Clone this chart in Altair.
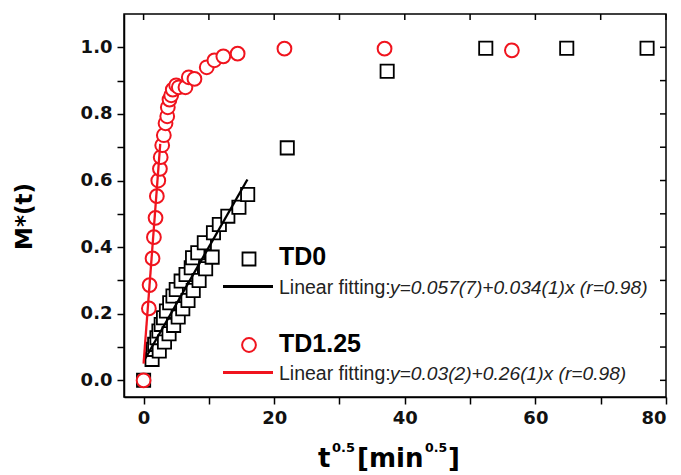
import altair as alt
import pandas as pd

# ---- data ----
td0_x = [0, 1.3, 1.42, 1.7, 2.05, 2.35, 2.4, 2.7, 3.05, 3.2, 3.5, 3.9, 4.0, 4.5, 4.6, 5.0,
         5.3, 5.75, 6.0, 6.5, 6.8, 7.3, 7.5, 7.6, 8.3, 8.5, 9.3, 9.5, 10.5, 10.7, 11.6,
         12.9, 14.6, 15.94, 22.0, 37.3, 52.4, 64.8, 77.1]
td0_y = [0, 0.063, 0.093, 0.108, 0.128, 0.148, 0.088, 0.168, 0.188, 0.115, 0.208, 0.14,
         0.233, 0.253, 0.165, 0.273, 0.19, 0.298, 0.215, 0.318, 0.24, 0.338, 0.368, 0.27,
         0.383, 0.3, 0.413, 0.335, 0.37, 0.443, 0.468, 0.493, 0.52, 0.558, 0.698, 0.928,
         0.997, 0.997, 0.997]

td125_x = [0, 0.81, 0.92, 1.37, 1.58, 1.83, 2.03, 2.25, 2.5, 2.62, 2.85, 3.1, 3.36, 3.62,
           3.71, 3.97, 4.23, 4.47, 4.99, 5.39, 6.41, 6.92, 7.79, 9.67, 10.84, 12.21, 14.4,
           21.57, 36.9, 56.4]
td125_y = [0, 0.216, 0.286, 0.366, 0.43, 0.488, 0.553, 0.6, 0.635, 0.67, 0.706, 0.736,
           0.772, 0.793, 0.82, 0.843, 0.856, 0.873, 0.886, 0.88, 0.88, 0.91, 0.905, 0.94,
           0.961, 0.973, 0.981, 0.996, 0.996, 0.991]

fit_td0_x = [0.15, 15.9]
fit_td0_y = [0.062, 0.603]
fit_td125_x = [0.0, 2.55]
fit_td125_y = [0.05, 0.71]

x_ticks = [0, 10, 20, 30, 40, 50, 60, 70, 80]
y_ticks = [0.0, 0.1, 0.2, 0.3, 0.4, 0.5, 0.6, 0.7, 0.8, 0.9, 1.0]

legend_names = ["TD0", "TD1.25"]
fit_prefix = "Linear fitting:"
fit_eqs = ["y=0.057(7)+0.034(1)x (r=0.98)", "y=0.03(2)+0.26(1)x (r=0.98)"]

# ---- styling ----
W, H = 542, 383
RED = "#f0141e"
AXFONT = "DejaVu Sans"
LEGFONT = "Liberation Sans"

xs = alt.Scale(domain=[-3, 80], nice=False, zero=False)
ys = alt.Scale(domain=[-0.05, 1.1], nice=False, zero=False)

d0 = pd.DataFrame({"x": td0_x, "y": td0_y})
d1 = pd.DataFrame({"x": td125_x, "y": td125_y})
f0 = pd.DataFrame({"x": fit_td0_x, "y": fit_td0_y})
f1 = pd.DataFrame({"x": fit_td125_x, "y": fit_td125_y})
xt = pd.DataFrame({"x": x_ticks})
yt = pd.DataFrame({"y": y_ticks})
one = pd.DataFrame({"a": [0]})

xaxis = alt.Axis(values=x_ticks, labelExpr="datum.value % 20 == 0 ? datum.label : ''",
                 tickSize=7, tickWidth=1.5, tickColor="black", domainColor="black",
                 domainWidth=1.5, labelFont=AXFONT, labelFontWeight="bold", labelFontSize=18,
                 labelColor="#111", labelPadding=5, grid=False, title=None)
yaxis = alt.Axis(values=y_ticks,
                 labelExpr="round(datum.value*10) % 2 == 0 ? format(datum.value, '.1f') : ''",
                 tickSize=7, tickWidth=1.5, tickColor="black", domainColor="black",
                 domainWidth=1.5, labelFont=AXFONT, labelFontWeight="bold", labelFontSize=18,
                 labelColor="#111", labelPadding=5, grid=False, title=None)

X = alt.X("x:Q", scale=xs, axis=xaxis)
Y = alt.Y("y:Q", scale=ys, axis=yaxis)

squares = alt.Chart(d0).mark_point(shape="square", size=175, fill="white", fillOpacity=1,
                                   stroke="black", strokeWidth=1.8, opacity=1).encode(x=X, y=Y)
circles = alt.Chart(d1).mark_point(shape="circle", size=190, fill="white", fillOpacity=1,
                                   stroke=RED, strokeWidth=2, opacity=1).encode(x=X, y=Y)
line0 = alt.Chart(f0).mark_line(color="black", strokeWidth=2.3).encode(x=X, y=Y)
line1 = alt.Chart(f1).mark_line(color=RED, strokeWidth=2.3).encode(x=X, y=Y)

# mirrored inward ticks on top and right
top_ticks = alt.Chart(xt).mark_rule(color="black", strokeWidth=1.5).encode(
    x=X, y=alt.value(0), y2=alt.value(6))
right_ticks = alt.Chart(yt).mark_rule(color="black", strokeWidth=1.5).encode(
    y=Y, x=alt.value(W), x2=alt.value(W - 6))


def txt(s, x, y, size, font, weight="normal", style="normal", color="black", angle=0,
        align="left", baseline="alphabetic"):
    return alt.Chart(one).mark_text(text=s, font=font, fontSize=size, fontWeight=weight,
                                    fontStyle=style, color=color, angle=angle, align=align,
                                    baseline=baseline).encode(x=alt.value(x), y=alt.value(y))


# legend
leg_sq = alt.Chart(one).mark_point(shape="square", size=169, fill="white", fillOpacity=1,
                                   stroke="black", strokeWidth=1.8).encode(
    x=alt.value(125), y=alt.value(245))
leg_ci = alt.Chart(one).mark_point(shape="circle", size=190, fill="white", fillOpacity=1,
                                   stroke=RED, strokeWidth=2).encode(
    x=alt.value(125), y=alt.value(331))
leg_l0 = alt.Chart(one).mark_rule(color="black", strokeWidth=2.8).encode(
    x=alt.value(99), x2=alt.value(149), y=alt.value(272.5))
leg_l1 = alt.Chart(one).mark_rule(color=RED, strokeWidth=2.8).encode(
    x=alt.value(99), x2=alt.value(149), y=alt.value(358.5))

texts = [
    txt(legend_names[0], 155, 251, 25, LEGFONT, weight="bold"),
    txt(legend_names[1], 155, 337.5, 25, LEGFONT, weight="bold"),
    txt(fit_prefix, 155, 280, 19.5, LEGFONT, color="#222"),
    txt(fit_eqs[0], 266, 280, 19.2, LEGFONT, style="italic", color="#222"),
    txt(fit_prefix, 155, 366, 19.5, LEGFONT, color="#222"),
    txt(fit_eqs[1], 266, 366, 19.2, LEGFONT, style="italic", color="#222"),
    # y title
    txt("M*(t)", -99, 202.5, 23, AXFONT, weight="bold", angle=270, align="center",
        baseline="middle"),
    # x title with superscripts
    txt("t", 194, 453, 26, AXFONT, weight="bold"),
    txt("0.5", 208, 438, 13, AXFONT, weight="bold"),
    txt("[min", 233, 453, 26, AXFONT, weight="bold"),
    txt("0.5", 301, 438, 12.5, AXFONT, weight="bold"),
    txt("]", 324, 453, 26, AXFONT, weight="bold"),
]

chart = alt.layer(squares, circles, line0, line1, top_ticks, right_ticks,
                  leg_sq, leg_ci, leg_l0, leg_l1, *texts).properties(
    width=W, height=H,
    autosize=alt.AutoSizeParams(type="none"),
    padding={"left": 116, "top": 6, "right": 7, "bottom": 77},
).configure_view(stroke="black", strokeWidth=1.5)

chart.save("out.html", embed_options={"renderer": "svg", "actions": False})
